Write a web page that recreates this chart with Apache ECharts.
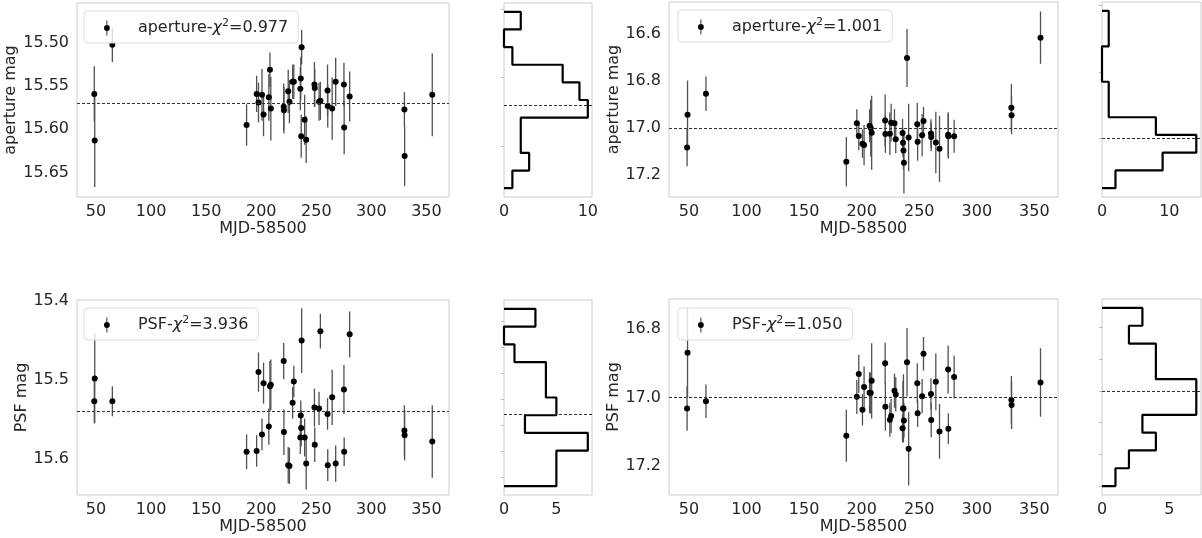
<!DOCTYPE html>
<html><head><meta charset="utf-8">
<script src="https://cdn.jsdelivr.net/npm/echarts@6/dist/echarts.min.js"></script>
<style>html,body{margin:0;padding:0;background:#fff}#c{width:1202px;height:538px}</style>
</head><body><div id="c"></div>
<script>
// ---- data ----
const mjd = [48.4,48.8,64.8,186.7,195.8,197.5,200.7,202.1,206.9,207.9,208.7,220.4,220.6,224.5,225.6,228.5,229.6,235.5,235.9,236.3,236.7,239.4,240.8,248.3,248.6,252.5,253.7,260.2,260.4,264.4,267.6,275.1,275.3,280.3,330.0,330.2,355.3];

const apMag1 = [15.559,15.613,15.502,15.595,15.559,15.569,15.560,15.583,15.563,15.531,15.576,15.574,15.578,15.556,15.568,15.545,15.545,15.553,15.541,15.608,15.505,15.589,15.612,15.548,15.552,15.568,15.567,15.555,15.573,15.576,15.545,15.548,15.598,15.562,15.577,15.631,15.560];
const apErr1 = [0.032,0.054,0.020,0.024,0.021,0.023,0.030,0.025,0.027,0.020,0.037,0.027,0.027,0.025,0.025,0.020,0.020,0.025,0.025,0.025,0.020,0.029,0.027,0.026,0.022,0.022,0.022,0.030,0.025,0.036,0.028,0.025,0.031,0.029,0.020,0.035,0.048];

const apMag2 = [17.082,16.944,16.855,17.143,16.980,17.034,17.066,17.072,16.990,17.000,17.020,16.968,17.025,17.024,16.977,16.980,17.047,17.021,17.062,17.095,17.147,16.703,17.040,16.984,17.058,17.030,16.970,17.023,17.038,17.061,17.088,17.028,17.035,17.035,16.914,16.946,16.617];
const apErr2 = [0.080,0.145,0.073,0.105,0.060,0.060,0.060,0.085,0.070,0.120,0.157,0.110,0.080,0.090,0.080,0.060,0.060,0.060,0.060,0.080,0.130,0.123,0.143,0.090,0.080,0.090,0.060,0.060,0.060,0.130,0.140,0.095,0.095,0.070,0.100,0.080,0.111];

const psfMag1 = [15.527,15.498,15.527,15.591,15.590,15.490,15.569,15.504,15.559,15.508,15.506,15.476,15.566,15.608,15.609,15.529,15.502,15.573,15.545,15.561,15.450,15.573,15.606,15.535,15.582,15.536,15.438,15.543,15.608,15.522,15.606,15.512,15.591,15.442,15.564,15.570,15.578];
const psfErr1 = [0.028,0.057,0.019,0.022,0.020,0.025,0.020,0.026,0.023,0.032,0.032,0.023,0.029,0.023,0.023,0.020,0.020,0.021,0.019,0.023,0.041,0.024,0.033,0.024,0.022,0.021,0.022,0.020,0.020,0.035,0.023,0.031,0.018,0.029,0.032,0.032,0.046];

const psfMag2 = [17.032,16.869,17.011,17.112,16.998,16.931,17.036,16.969,16.986,16.987,16.951,16.900,17.027,17.065,17.054,16.980,16.991,17.090,17.032,17.032,17.067,16.897,17.150,16.958,17.046,16.996,16.872,16.990,17.066,16.954,17.099,16.918,17.091,16.940,17.007,17.022,16.956];
const psfErr2 = [0.065,0.130,0.049,0.076,0.050,0.056,0.046,0.060,0.060,0.060,0.110,0.060,0.070,0.050,0.050,0.050,0.050,0.040,0.080,0.100,0.050,0.100,0.107,0.058,0.040,0.050,0.049,0.046,0.050,0.083,0.080,0.070,0.045,0.063,0.070,0.070,0.100];

const meanMag = [15.566, 17.002, 15.543, 17.002];
const legendPrefix = ['aperture', 'aperture', 'PSF', 'PSF'];
const chi2 = ['0.977', '1.001', '3.936', '1.050'];
const yLabel = ['aperture mag', 'aperture mag', 'PSF mag', 'PSF mag'];

const histCounts1 = [2,0,1,7,9,10,2,2,3,1];
const histCounts2 = [1,1,0,0,1,1,8,14,9,2];
const histCounts3 = [3,0,1,4,4,5,2,8,5,5];
const histCounts4 = [3,2,4,4,7,7,3,4,2,1];
const histRange1 = [15.502, 15.631];
const histRange2 = [16.617, 17.148];
const histRange3 = [15.438, 15.609];
const histRange4 = [16.869, 17.150];

const xTicks = [50,100,150,200,250,300,350];
const yTicks1 = [15.50,15.55,15.60,15.65];
const yTicks2 = [16.6,16.8,17.0,17.2];
const yTicks3 = [15.4,15.5,15.6];
const yTicks4 = [16.8,17.0,17.2];
const histYTicks1 = [15.50,15.55,15.60];
const histYTicks2 = [16.6,16.8,17.0];
const histYTicks3 = [15.45,15.475,15.5,15.525,15.55,15.575,15.6];
const histYTicks4 = [16.9,16.95,17.0,17.05,17.1,17.15];
const histXTicks1 = [0,10];
const histXTicks2 = [0,10];
const histXTicks3 = [0,5];
const histXTicks4 = [0,5];

// ---- layout / style ----
const FONT = 'DejaVu Sans';
const TXT = '#262626';
const FRAME = '#cccccc';
const xRange = [32.7, 370.5];

const panels = [
  {mag: apMag1, err: apErr1, ylim: [15.4536, 15.6785], yTicks: yTicks1, dec: 2,
   counts: histCounts1, range: histRange1, hyTicks: histYTicks1, hxTicks: histXTicks1,
   grid: {left: 77, top: 3, width: 372, height: 194}, hgrid: {left: 504, top: 3, width: 88, height: 194},
   nameGap: 49, legend: {left: 84, top: 11}},
  {mag: apMag2, err: apErr2, ylim: [16.466, 17.292], yTicks: yTicks2, dec: 1,
   counts: histCounts2, range: histRange2, hyTicks: histYTicks2, hxTicks: histXTicks2,
   grid: {left: 669, top: 2, width: 389, height: 195}, hgrid: {left: 1102, top: 2, width: 99, height: 195},
   nameGap: 40, legend: {left: 678, top: 10}},
  {mag: psfMag1, err: psfErr1, ylim: [15.3985, 15.6459], yTicks: yTicks3, dec: 1,
   counts: histCounts3, range: histRange3, hyTicks: histYTicks3, hxTicks: histXTicks3,
   grid: {left: 77, top: 300, width: 372, height: 195}, hgrid: {left: 504, top: 300, width: 88, height: 195},
   nameGap: 40, legend: {left: 84, top: 308}},
  {mag: psfMag2, err: psfErr2, ylim: [16.712, 17.285], yTicks: yTicks4, dec: 1,
   counts: histCounts4, range: histRange4, hyTicks: histYTicks4, hxTicks: histXTicks4,
   grid: {left: 669, top: 299, width: 389, height: 196}, hgrid: {left: 1102, top: 299, width: 99, height: 196},
   nameGap: 40, legend: {left: 678, top: 308}}
];

const seriesName = i => legendPrefix[i] + '-chi2=' + chi2[i];
const ICON = 'path://M2.6,0H3.4V15H2.6Z M3,4.6A2.9,2.9 0 1 1 3,10.4A2.9,2.9 0 1 1 3,4.6Z';

const grid = [], xAxis = [], yAxis = [], series = [], legend = [];
const dashed = {color: '#333', width: 1, type: [3, 2]};

panels.forEach((p, i) => {
  const gs = grid.length;
  grid.push(Object.assign({show: true, borderColor: FRAME, borderWidth: 1, containLabel: false}, p.grid));
  grid.push(Object.assign({show: true, borderColor: FRAME, borderWidth: 1, containLabel: false}, p.hgrid));

  xAxis.push({type: 'value', gridIndex: gs, min: xRange[0], max: xRange[1],
    name: 'MJD-58500', nameLocation: 'middle', nameGap: 22,
    nameTextStyle: {fontFamily: FONT, fontSize: 16, color: TXT},
    axisLine: {show: false}, axisTick: {show: false}, splitLine: {show: false},
    axisLabel: {customValues: xTicks, fontFamily: FONT, fontSize: 16, color: TXT, margin: 7}});
  yAxis.push({type: 'value', gridIndex: gs, inverse: true, min: p.ylim[0], max: p.ylim[1],
    name: yLabel[i], nameLocation: 'middle', nameGap: p.nameGap, nameRotate: 90,
    nameTextStyle: {fontFamily: FONT, fontSize: 16, color: TXT},
    axisLine: {show: false}, axisTick: {show: false}, splitLine: {show: false},
    axisLabel: {customValues: p.yTicks, fontFamily: FONT, fontSize: 16, color: TXT, margin: 8,
      formatter: v => v.toFixed(p.dec)}});

  const cmax = Math.max.apply(null, p.counts);
  const span = p.range[1] - p.range[0];
  xAxis.push({type: 'value', gridIndex: gs + 1, min: 0, max: cmax * 1.05,
    axisLine: {show: false}, axisTick: {show: false}, splitLine: {show: false},
    axisLabel: {customValues: p.hxTicks, fontFamily: FONT, fontSize: 16, color: TXT, margin: 7}});
  yAxis.push({type: 'value', gridIndex: gs + 1, inverse: true,
    min: p.range[0] - 0.05 * span, max: p.range[1] + 0.05 * span,
    axisLine: {show: false}, splitLine: {show: false},
    axisTick: {show: true, customValues: p.hyTicks, length: 3, lineStyle: {color: '#bbbbbb', width: 1}},
    axisLabel: {show: false}});

  const pts = mjd.map((m, k) => [m, p.mag[k], p.err[k]]);
  const name = seriesName(i);

  series.push({type: 'custom', xAxisIndex: gs, yAxisIndex: gs, z: 2, silent: true,
    data: pts,
    renderItem: (params, api) => {
      const x = api.value(0), y = api.value(1), e = api.value(2);
      const a = api.coord([x, y - e]), b = api.coord([x, y + e]);
      return {type: 'line', shape: {x1: a[0], y1: a[1], x2: b[0], y2: b[1]},
        style: {stroke: '#505050', lineWidth: 1.3}};
    }});
  series.push({type: 'scatter', name: name, xAxisIndex: gs, yAxisIndex: gs, z: 3,
    symbol: 'circle', symbolSize: 6, itemStyle: {color: '#000', opacity: 1},
    data: pts.map(d => [d[0], d[1]]),
    markLine: {silent: true, symbol: 'none', label: {show: false}, lineStyle: dashed,
      data: [{yAxis: meanMag[i]}]}});

  const n = p.counts.length, w = span / n;
  const step = [[0, p.range[0]]];
  p.counts.forEach((c, k) => {
    step.push([c, p.range[0] + k * w]);
    step.push([c, p.range[0] + (k + 1) * w]);
  });
  step.push([0, p.range[1]]);
  series.push({type: 'line', xAxisIndex: gs + 1, yAxisIndex: gs + 1, data: step,
    showSymbol: false, clip: false, silent: true,
    lineStyle: {color: '#000', width: 2.2}, itemStyle: {color: '#000'},
    markLine: {silent: true, symbol: 'none', label: {show: false}, lineStyle: dashed,
      data: [{yAxis: meanMag[i]}]}});

  legend.push({data: [name], left: p.legend.left, top: p.legend.top, orient: 'vertical',
    selectedMode: false, icon: ICON, itemWidth: 6, itemHeight: 15,
    backgroundColor: 'rgba(255,255,255,0.8)', borderColor: '#dddddd', borderWidth: 1, borderRadius: 4,
    padding: [7, 10, 7, 20],
    formatter: () => '{p|' + legendPrefix[i] + '-}{c|\u03c7}{s|2}{q|=' + chi2[i] + '}',
    textStyle: {fontFamily: FONT, fontSize: 16, color: TXT,
      rich: {
        p: {fontFamily: FONT, fontSize: 16, color: TXT, padding: [0, 0, 0, 23], lineHeight: 20},
        c: {fontFamily: FONT, fontSize: 16, color: TXT, fontStyle: 'italic', lineHeight: 20},
        s: {fontFamily: FONT, fontSize: 11, color: TXT, lineHeight: 10, verticalAlign: 'top'},
        q: {fontFamily: FONT, fontSize: 16, color: TXT, lineHeight: 20}
      }}});
});

const chart = echarts.init(document.getElementById('c'));
chart.setOption({animation: false, backgroundColor: '#fff', grid, xAxis, yAxis, series, legend});
</script></body></html>
